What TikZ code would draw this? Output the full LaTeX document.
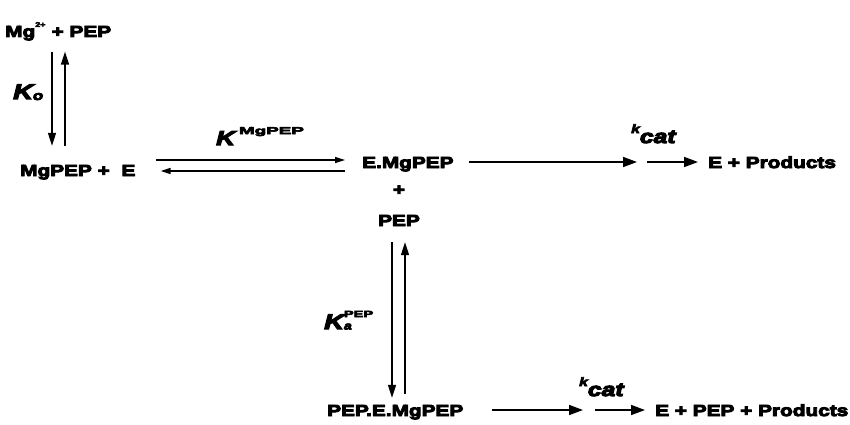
\documentclass[tikz,border=0pt]{standalone}
\usepackage{fontspec}
\usepackage{graphicx}
\usetikzlibrary{arrows.meta,calc}
% heavy, extended grotesque for all labels
\newfontfamily\heavy{Liberation Sans Bold}[FakeBold=6, FakeStretch=1.3]
\newfontfamily\heavyit{Liberation Sans Bold Italic}[FakeBold=6, FakeStretch=1.3]
\newcommand{\fs}[1]{\fontsize{#1}{#1}\selectfont}

\begin{document}
\begin{tikzpicture}[x=1pt,y=-1pt,
  lbl/.style={font=\heavy\fs{16}, inner sep=0pt, anchor=base west},
  ctr/.style={font=\heavy\fs{16}, inner sep=0pt, anchor=base},
  cst/.style={font=\heavyit, inner sep=0pt, anchor=base west},
  fwd/.style={-{Triangle[length=14pt,width=10pt]}, line width=1.6pt},
  eqm/.style={-{Triangle[length=10pt,width=6pt]}, line width=1.4pt},
  vrt/.style={-{Triangle[length=13pt,width=8pt]}, line width=1.5pt}]

\fill[white] (0,0) rectangle (850,425);
\useasboundingbox (0,0) rectangle (850,425);

% species
\node[lbl] (mg)    at (5,37)    {Mg\raisebox{10pt}{\fs{7}2+}\hspace{6pt}+ PEP};
\node[lbl] (mge)   at (20,176)  {MgPEP + \hspace{6pt}E};
\node[lbl] (emg)   at (362,168) {E.MgPEP};
\node[ctr] (plus)  at (399,195) {+};
\node[ctr] (pep)   at (399,226) {PEP};
\node[lbl] (pemg)  at (327,416) {PEP.E.MgPEP};
\node[lbl] (prod)  at (708,168) {E + Products};
\node[lbl] (prod2) at (655,416) {E + PEP + Products};

% constants
\node[cst] (ko) at (13,99) {\fs{21}K\raisebox{-1pt}{\fs{13}o}};
\node[cst] (kmg) at (216,145) {\fs{20}K\hspace{4pt}\raisebox{11pt}{\heavy\fs{10}\scalebox{1.45}[1]{MgPEP}}};
\node[cst] (kpep) at (324,329) {\fs{21}K\rlap{\raisebox{12pt}{\heavy\fs{9}\scalebox{1.25}[1]{PEP}}}\raisebox{-0.5pt}{\fs{11}a}};
\node[cst] (kc1) at (631,133) {\fs{12}k\raisebox{-10pt}{\fs{19}cat}};
\node[cst] (kc2) at (579,386) {\fs{12}k\raisebox{-10pt}{\fs{19}cat}};

% row heights of the horizontal connectors
\coordinate (ya) at (0,160);
\coordinate (yb) at (0,171);
\coordinate (yc) at (0,162);
\coordinate (yd) at (0,410);
\coordinate (k1) at (642,162);
\coordinate (k2) at (589,410);

% Mg2+ + PEP <=> MgPEP
\draw[vrt, shorten <=11pt, shorten >=19pt]
  ([xshift=47pt]mg.south west) -- ([xshift=47pt]mg.south west |- mge.north);
\draw[vrt, shorten <=19pt, shorten >=11pt]
  ([xshift=60pt]mg.south west |- mge.north) -- ([xshift=60pt]mg.south west);

% MgPEP + E <=> E.MgPEP
\draw[eqm, shorten <=20pt, shorten >=17pt] (mge.east |- ya) -- (emg.west |- ya);
\draw[eqm, shorten <=17pt, shorten >=25pt] (emg.west |- yb) -- (mge.east |- yb);

% E.MgPEP -> E + Products
\draw[fwd, shorten <=15pt, shorten >=5pt] (emg.east |- yc) -- (k1);
\draw[fwd, shorten <=5pt, shorten >=10pt] (k1) -- (prod.west |- yc);

% E.MgPEP + PEP <=> PEP.E.MgPEP
\draw[vrt, shorten <=16pt, shorten >=7pt]
  ([xshift=-7pt]pep.south) -- ([xshift=-7pt]pep.south |- pemg.north);
\draw[vrt, shorten <=11pt, shorten >=16pt]
  ([xshift=6pt]pep.south |- pemg.north) -- ([xshift=6pt]pep.south);

% PEP.E.MgPEP -> E + PEP + Products
\draw[fwd, shorten <=29pt, shorten >=6pt] (pemg.east |- yd) -- (k2);
\draw[fwd, shorten <=6pt, shorten >=10pt] (k2) -- (prod2.west |- yd);
\end{tikzpicture}
\end{document}
